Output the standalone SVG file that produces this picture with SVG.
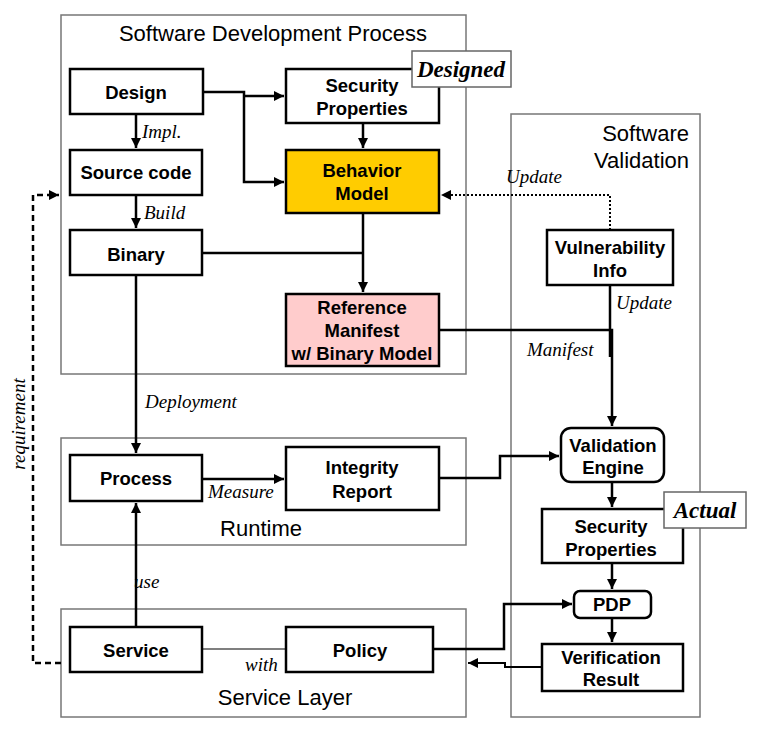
<svg xmlns="http://www.w3.org/2000/svg" width="763" height="731" viewBox="0 0 763 731">
<style>
.ctr{fill:#fff;stroke:#777;stroke-width:1.5}
.nd{fill:#fff;stroke:#000;stroke-width:2.5}
.lbl{fill:#fff;stroke:#666;stroke-width:1.5}
.t{font-family:"Liberation Sans",Arial,sans-serif;font-weight:bold;font-size:18.5px;text-anchor:middle;fill:#000}
.h{font-family:"Liberation Sans",Arial,sans-serif;font-size:22px;fill:#000}
.it{font-family:"Liberation Serif","Times New Roman",serif;font-style:italic;font-size:19px;fill:#000}
.bi{font-family:"Liberation Serif","Times New Roman",serif;font-style:italic;font-weight:bold;font-size:23px;text-anchor:middle;fill:#000}
.c{fill:none;stroke:#000;stroke-width:2.5}
</style>
<defs>
<marker id="ah2" viewBox="0 0 10 10" refX="10" refY="5" markerWidth="10" markerHeight="10" orient="auto" markerUnits="userSpaceOnUse">
<path d="M0,0 L10,5 L0,10 z" fill="#000"/>
</marker>
</defs>
<rect width="763" height="731" fill="#fff"/>
<g id="containers">
<rect class="ctr" x="61" y="15" width="405" height="359"/>
<rect class="ctr" x="61" y="438" width="405" height="107"/>
<rect class="ctr" x="61" y="609" width="405" height="108"/>
<rect class="ctr" x="511" y="114" width="189" height="603"/>
<text class="h" x="273" y="41" text-anchor="middle">Software Development Process</text>
<text class="h" x="689" y="141" text-anchor="end">Software</text>
<text class="h" x="689" y="168" text-anchor="end">Validation</text>
<text class="h" x="261" y="536" text-anchor="middle">Runtime</text>
<text class="h" x="285" y="705" text-anchor="middle">Service Layer</text>
</g>
<g id="connectors">
<path class="c" d="M203,92 H244 V182 H284" marker-end="url(#ah2)"/>
<path class="c" d="M244,96 H284" stroke-width="2" marker-end="url(#ah2)"/>
<path class="c" d="M363,123 V148" marker-end="url(#ah2)"/>
<path class="c" d="M136,114 V148" marker-end="url(#ah2)"/>
<path class="c" d="M136,195 V228" marker-end="url(#ah2)"/>
<path class="c" d="M202,253 H363"/>
<path class="c" d="M363,213 V292" marker-end="url(#ah2)"/>
<path class="c" d="M136,275 V453" marker-end="url(#ah2)"/>
<path class="c" d="M202,479 H284" marker-end="url(#ah2)"/>
<path class="c" d="M136,627 V503" marker-end="url(#ah2)"/>
<path fill="none" stroke="#000" stroke-width="1.2" d="M202,649 H286"/>
<path class="c" d="M439,478 H500 V456 H559" marker-end="url(#ah2)"/>
<path class="c" d="M439,330 H612 V426" marker-end="url(#ah2)"/>
<path class="c" d="M610,285 V357"/>
<path fill="none" stroke="#000" stroke-width="2" stroke-dasharray="2,2" d="M610,230 V195 H441" marker-end="url(#ah2)"/>
<path class="c" d="M612,482 V507" marker-end="url(#ah2)"/>
<path class="c" d="M612,563 V589" marker-end="url(#ah2)"/>
<path class="c" d="M612,618 V642" marker-end="url(#ah2)"/>
<path class="c" d="M433,649 H504 V604 H572" marker-end="url(#ah2)"/>
<path fill="none" stroke="#000" stroke-width="2" d="M542,667 H505 V663 H468" marker-end="url(#ah2)"/>
<path fill="none" stroke="#000" stroke-width="2.5" stroke-dasharray="6,4" d="M61,663 H33 V195 H59" marker-end="url(#ah2)"/>
<text class="it" x="142" y="138">Impl.</text>
<text class="it" x="144" y="219">Build</text>
<text class="it" x="145" y="408">Deployment</text>
<text class="it" x="208" y="498">Measure</text>
<text class="it" x="134" y="588">use</text>
<text class="it" x="245" y="671">with</text>
<text class="it" x="527" y="356">Manifest</text>
<text class="it" x="616" y="309">Update</text>
<text class="it" x="506" y="183">Update</text>
<text class="it" transform="translate(25,424) rotate(-90)" text-anchor="middle" font-size="18.5">requirement</text>
</g>
<g id="design"><rect class="nd" x="70" y="69" width="133" height="45"/><text class="t" x="136" y="99">Design</text></g>
<g id="source-code"><rect class="nd" x="70" y="150" width="132" height="45"/><text class="t" x="136" y="179">Source code</text></g>
<g id="binary"><rect class="nd" x="70" y="230" width="132" height="45"/><text class="t" x="136" y="261">Binary</text></g>
<g id="security-properties-designed"><rect class="nd" x="286" y="69" width="153" height="54"/><text class="t" x="362" y="92">Security</text><text class="t" x="362" y="115">Properties</text></g>
<g id="designed-label"><rect class="lbl" x="412" y="51" width="99" height="36"/><text class="bi" x="461" y="77">Designed</text></g>
<g id="behavior-model"><rect class="nd" x="286" y="150" width="153" height="63" style="fill:#FFCC00"/><text class="t" x="362" y="177">Behavior</text><text class="t" x="362" y="200">Model</text></g>
<g id="reference-manifest"><rect class="nd" x="286" y="294" width="153" height="72" style="fill:#FFCCCC"/><text class="t" x="362" y="314">Reference</text><text class="t" x="362" y="337">Manifest</text><text class="t" x="362" y="360">w/ Binary Model</text></g>
<g id="vulnerability-info"><rect class="nd" x="547" y="230" width="126" height="55"/><text class="t" x="610" y="254">Vulnerability</text><text class="t" x="610" y="277">Info</text></g>
<g id="validation-engine"><rect class="nd" x="561" y="428" width="103" height="54" rx="10"/><text class="t" x="613" y="452">Validation</text><text class="t" x="613" y="474">Engine</text></g>
<g id="security-properties-actual"><rect class="nd" x="542" y="509" width="141" height="54"/><text class="t" x="611" y="533">Security</text><text class="t" x="611" y="556">Properties</text></g>
<g id="actual-label"><rect class="lbl" x="664" y="492" width="82" height="36"/><text class="bi" x="705" y="518">Actual</text></g>
<g id="pdp"><rect class="nd" x="574" y="591" width="77" height="27" rx="6"/><text class="t" x="612" y="611">PDP</text></g>
<g id="verification-result"><rect class="nd" x="542" y="644" width="141" height="47"/><text class="t" x="611" y="664">Verification</text><text class="t" x="611" y="686">Result</text></g>
<g id="process"><rect class="nd" x="70" y="455" width="132" height="46"/><text class="t" x="136" y="485">Process</text></g>
<g id="integrity-report"><rect class="nd" x="286" y="447" width="153" height="63"/><text class="t" x="362" y="474">Integrity</text><text class="t" x="362" y="498">Report</text></g>
<g id="service"><rect class="nd" x="70" y="627" width="132" height="45"/><text class="t" x="136" y="657">Service</text></g>
<g id="policy"><rect class="nd" x="286" y="627" width="147" height="45"/><text class="t" x="360" y="657">Policy</text></g>
</svg>
